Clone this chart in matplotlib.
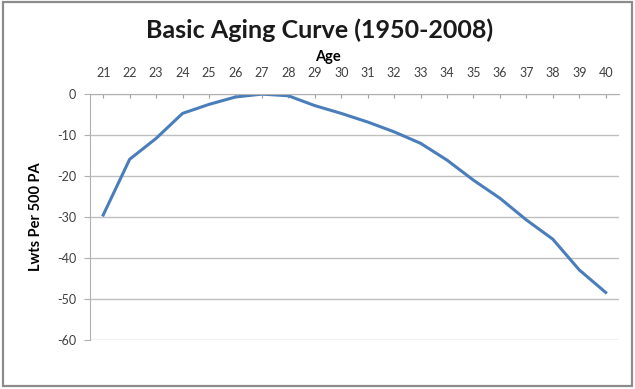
import matplotlib
matplotlib.use("Agg")
import matplotlib.pyplot as plt
from matplotlib.patches import Rectangle

# ages (categories) and linear weights per 500 PA
ages = [21, 22, 23, 24, 25, 26, 27, 28, 29, 30,
        31, 32, 33, 34, 35, 36, 37, 38, 39, 40]
lwts = [-29.5, -15.9, -10.8, -4.7, -2.5, -0.7, 0.0, -0.4, -2.8, -4.7,
        -6.8, -9.2, -12.0, -16.1, -21.0, -25.4, -30.7, -35.4, -42.9, -48.4]
yticks = [0, -10, -20, -30, -40, -50, -60]

plt.rcParams['font.family'] = ['Lato', 'DejaVu Sans']
plt.rcParams['axes.unicode_minus'] = False

fig = plt.figure(figsize=(6.35, 3.89), dpi=100)
fig.patch.set_facecolor('white')

# outer chart frame
fig.patches.append(Rectangle((0.004, 0.008), 0.992, 0.986, transform=fig.transFigure,
                             fill=False, edgecolor='#8c8c8c', linewidth=1.6))

ax = fig.add_axes([0.1417, 0.126, 0.833, 0.632])

ax.plot(ages, lwts, color='#4a7ebb', linewidth=2.2, solid_joinstyle='round')

ax.set_xlim(20.5, 40.5)
ax.set_ylim(-60, 0)
ax.set_yticks(yticks)
ax.set_xticks(ages)

ax.xaxis.tick_top()
ax.xaxis.set_label_position('top')
ax.tick_params(axis='x', direction='in', length=3, color='#a0a0a0', pad=11,
               labelsize=9, labelcolor='#404040')
ax.tick_params(axis='y', direction='out', length=4, color='#b0b0b0', pad=6,
               labelsize=9, labelcolor='#404040')

ax.grid(axis='y', color='#bfbfbf', linewidth=1)
ax.set_axisbelow(True)
for s in ['right', 'bottom']:
    ax.spines[s].set_visible(False)
ax.spines['top'].set_color('#b0b0b0')
ax.spines['left'].set_color('#b0b0b0')

ax.set_xlabel('Age', fontsize=10.5, fontweight='bold', va='center')
ax.xaxis.set_label_coords(0.45, 1.15)
ax.set_ylabel('Lwts Per 500 PA', fontsize=10.5, fontweight='bold', labelpad=10)

fig.text(0.503, 0.922, 'Basic Aging Curve (1950-2008)', ha='center', va='center',
         fontsize=18, fontweight='bold', color='#1a1a1a')

fig.savefig('out.png', dpi=100)
